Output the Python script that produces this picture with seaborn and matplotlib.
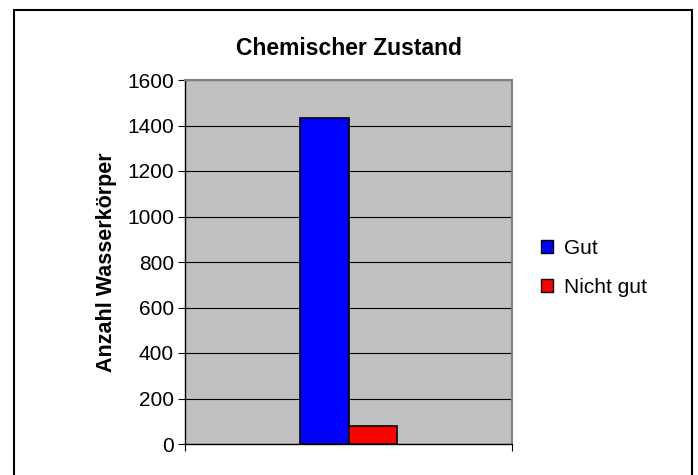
import pandas as pd
import matplotlib.pyplot as plt
import seaborn as sns
from matplotlib.patches import Rectangle, Patch

# Daten
kategorie = [""]
zustand = ["Gut", "Nicht gut"]
anzahl = [1433, 79]
farben = ["#0000FF", "#FF0000"]
y_ticks = [0, 200, 400, 600, 800, 1000, 1200, 1400, 1600]

df = pd.DataFrame({
    "kategorie": kategorie * len(zustand),
    "zustand": zustand,
    "anzahl": anzahl,
})

sns.set_style("white")
plt.rcParams["font.family"] = ["Liberation Sans", "DejaVu Sans"]
plt.rcParams["text.color"] = "black"
plt.rcParams["axes.labelcolor"] = "black"
plt.rcParams["xtick.color"] = "black"
plt.rcParams["ytick.color"] = "black"

fig = plt.figure(figsize=(6.98, 4.75), dpi=100)
ax = fig.add_axes([185 / 698, 31 / 475, 327 / 698, 364 / 475])
ax.set_facecolor("#C0C0C0")

sns.barplot(
    data=df, x="kategorie", y="anzahl", hue="zustand",
    palette=farben, width=0.294, edgecolor="black", linewidth=1.2,
    saturation=1, legend=False, ax=ax, zorder=3,
)

ax.set_xlim(-0.5, 0.5)
ax.set_ylim(0, 1600)
ax.set_yticks(y_ticks)
ax.yaxis.grid(True, color="black", linewidth=0.8, zorder=1)
ax.set_axisbelow(True)
ax.set_xticks([-0.5, 0.5])
ax.set_xticklabels([])
ax.tick_params(axis="x", direction="out", length=5, width=0.8, color="black", bottom=True)
ax.tick_params(axis="y", direction="out", length=5, width=0.8, color="black", labelsize=15, left=True, pad=3)
ax.set_xlabel("")
ax.set_ylabel("Anzahl Wasserkörper", fontsize=15.5, fontweight="bold", labelpad=7)

for s in ["top", "right"]:
    ax.spines[s].set_color("#808080")
    ax.spines[s].set_linewidth(1.5)
for s in ["left", "bottom"]:
    ax.spines[s].set_color("black")
    ax.spines[s].set_linewidth(1.0)

ax.set_title("Chemischer Zustand", fontsize=16.5, fontweight="bold", pad=18)

# Legende
handles = [Patch(facecolor=f, edgecolor="black", linewidth=1.0) for f in farben]
fig.legend(handles, zustand, loc="center left", bbox_to_anchor=(522 / 698, 1 - 268 / 475),
           frameon=False, fontsize=15, handlelength=0.6, handleheight=0.6,
           handletextpad=0.5, labelspacing=0.95)

# Rahmen um das Diagramm
fig.patches.append(Rectangle((14 / 698, -0.1), 678 / 698, 1.1 - 10 / 475,
                             transform=fig.transFigure, fill=False,
                             edgecolor="black", linewidth=1.5))

fig.savefig("out.png", dpi=100)
